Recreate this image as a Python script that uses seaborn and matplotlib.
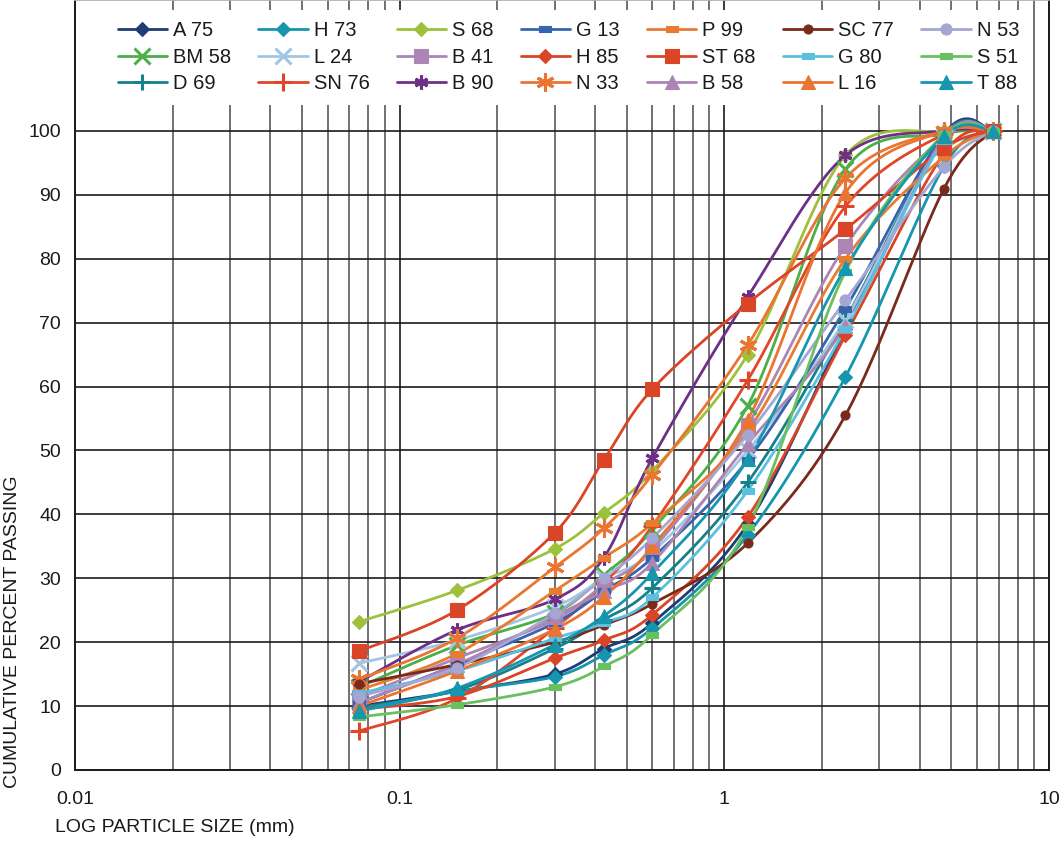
import numpy as np
import pandas as pd
import matplotlib
matplotlib.use("Agg")
import matplotlib.pyplot as plt
from matplotlib.lines import Line2D
from matplotlib.path import Path
import seaborn as sns

# Sieve sizes (mm)
sizes = [0.075, 0.15, 0.3, 0.425, 0.6, 1.18, 2.36, 4.75, 6.7]

# Cumulative percent passing for each sample
a75  = [10.0, 12.3, 15.0, 19.0, 23.0, 38.5, 69.0, 99.5, 100]
bm58 = [13.0, 19.5, 24.5, 30.5, 37.6, 57.0, 94.0, 99.5, 100]
d69  = [9.8, 12.5, 19.0, 23.5, 28.5, 45.0, 70.5, 99.0, 100]
h73  = [9.5, 12.3, 14.6, 18.0, 22.2, 36.8, 61.5, 94.5, 100]
l24  = [16.7, 20.3, 25.5, 30.0, 34.1, 50.0, 70.5, 99.0, 100]
sn76 = [6.1, 11.2, 22.2, 29.2, 38.2, 61.0, 88.2, 99.5, 100]
s68  = [23.2, 28.1, 34.6, 40.2, 46.8, 65.0, 96.2, 100, 100]
b41  = [11.5, 17.5, 23.5, 29.0, 34.5, 54.0, 82.0, 99.0, 100]
b90  = [13.8, 21.9, 26.7, 33.2, 48.8, 74.0, 96.2, 100, 100]
g13  = [10.5, 16.5, 23.0, 28.0, 33.2, 48.5, 72.2, 99.5, 100]
h85  = [9.5, 11.5, 17.5, 20.3, 24.3, 39.6, 68.0, 96.5, 100]
n33  = [14.2, 20.6, 31.7, 37.8, 46.2, 66.5, 92.6, 100, 100]
p99  = [12.5, 18.2, 28.0, 33.2, 38.6, 53.0, 80.0, 96.0, 100]
st68 = [18.6, 25.0, 37.1, 48.5, 59.6, 73.0, 84.6, 97.3, 100]
b58  = [10.5, 16.5, 24.0, 28.0, 32.4, 51.0, 69.5, 99.0, 100]
sc77 = [13.5, 16.5, 20.0, 22.7, 26.0, 35.5, 55.5, 91.0, 100]
g80  = [12.0, 15.5, 20.6, 23.0, 27.0, 43.7, 69.0, 98.5, 100]
l16  = [10.0, 15.5, 22.0, 27.1, 35.0, 54.8, 90.3, 100, 100]
n53  = [11.5, 16.0, 24.5, 30.0, 36.3, 52.5, 73.5, 94.4, 100]
s51  = [8.3, 10.2, 13.0, 16.2, 21.2, 38.0, 78.0, 99.5, 100]
t88  = [9.2, 12.8, 19.6, 24.1, 30.8, 48.6, 78.6, 99.2, 100]

names = ["A 75", "BM 58", "D 69", "H 73", "L 24", "SN 76", "S 68",
         "B 41", "B 90", "G 13", "H 85", "N 33", "P 99", "ST 68",
         "B 58", "SC 77", "G 80", "L 16", "N 53", "S 51", "T 88"]
values = [a75, bm58, d69, h73, l24, sn76, s68, b41, b90, g13, h85, n33,
          p99, st68, b58, sc77, g80, l16, n53, s51, t88]

# wide flat rectangle marker
rect = Path([(-1, -0.5), (1, -0.5), (1, 0.5), (-1, 0.5), (-1, -0.5)],
            [Path.MOVETO, Path.LINETO, Path.LINETO, Path.LINETO, Path.CLOSEPOLY])
ast = (6, 2, 0)

styles = {
    "A 75":  dict(color="#1F3C74", marker="D", ms=7.5),
    "BM 58": dict(color="#4CAF48", marker="x", ms=11, mew=2.2),
    "D 69":  dict(color="#16808B", marker="+", ms=11, mew=2.2),
    "H 73":  dict(color="#1596AE", marker="D", ms=7.5),
    "L 24":  dict(color="#A2C6E2", marker="x", ms=11, mew=2.2),
    "SN 76": dict(color="#E2452A", marker="+", ms=13, mew=2.2),
    "S 68":  dict(color="#9DC13A", marker="D", ms=7.5),
    "B 41":  dict(color="#AC85B5", marker="s", ms=10),
    "B 90":  dict(color="#6E2F87", marker=ast, ms=10, mew=2.2),
    "G 13":  dict(color="#3465AE", marker=rect, ms=9),
    "H 85":  dict(color="#D94526", marker="D", ms=7.5),
    "N 33":  dict(color="#EA7432", marker=ast, ms=13, mew=2.2),
    "P 99":  dict(color="#E87B2F", marker=rect, ms=9),
    "ST 68": dict(color="#D94526", marker="s", ms=10.5),
    "B 58":  dict(color="#AC85B5", marker="^", ms=10),
    "SC 77": dict(color="#7A2A1A", marker="o", ms=6.5),
    "G 80":  dict(color="#5BBFE0", marker=rect, ms=9),
    "L 16":  dict(color="#EA7432", marker="^", ms=10),
    "N 53":  dict(color="#A5A6D3", marker="o", ms=8),
    "S 51":  dict(color="#6ABF5E", marker=rect, ms=9),
    "T 88":  dict(color="#1796B0", marker="^", ms=10),
}


def smooth_path(xs, ys, n=30):
    """Bezier smoothing through the points in log-x space."""
    pts = np.column_stack([np.log10(xs), np.asarray(ys, float)])
    segs = []
    last = len(pts) - 2
    for i in range(len(pts) - 1):
        p0 = pts[max(i - 1, 0)]
        p1 = pts[i]
        p2 = pts[i + 1]
        p3 = pts[min(i + 2, len(pts) - 1)]
        c1 = p1 + (p2 - p0) / 6.0
        c2 = p2 - (p3 - p1) / 6.0
        t = np.linspace(0, 1, n, endpoint=(i == last))[:, None]
        segs.append((1 - t) ** 3 * p1 + 3 * (1 - t) ** 2 * t * c1
                    + 3 * (1 - t) * t ** 2 * c2 + t ** 3 * p2)
    out = np.vstack(segs)
    return 10 ** out[:, 0], out[:, 1]


sns.set_theme(style="white")
plt.rcParams["font.family"] = ["Liberation Sans", "DejaVu Sans"]
plt.rcParams["font.size"] = 13.5

fig = plt.figure(figsize=(10.6, 8.41), dpi=100)
ax = fig.add_axes([75 / 1060, 1 - 770 / 841, 974 / 1060, 770 / 841])

ax.set_xscale("log")
ax.set_xlim(0.01, 10)
ax.set_ylim(0, 120.5)
ax.set_yticks(np.arange(0, 101, 10))
ax.set_xticks([0.01, 0.1, 1, 10])
ax.set_xticklabels(["0.01", "0.1", "1", "10"])

ax.grid(which="major", axis="both", color="#1a1a1a", lw=1.2, zorder=0)
ax.grid(which="minor", axis="x", color="#4a4a4a", lw=1.1, zorder=0)
ax.set_axisbelow(True)
ax.tick_params(axis="both", which="major", length=6, width=1.2, color="#1a1a1a",
               direction="out", labelsize=14, colors="#1a1a1a")
ax.tick_params(axis="x", which="major", pad=9)
ax.tick_params(axis="x", which="minor", length=0)
ax.tick_params(axis="y", pad=4)
for side in ("left", "bottom", "right"):
    ax.spines[side].set_color("#1a1a1a")
    ax.spines[side].set_linewidth(1.4)
ax.spines["top"].set_color("#b0b0b0")

handles = []
for name, vals in zip(names, values):
    st = styles[name]
    sx, sy = smooth_path(sizes, vals)
    curve = pd.DataFrame({"size": sx, "passing": sy})
    sns.lineplot(data=curve, x="size", y="passing", sort=False, estimator=None,
                 color=st["color"], lw=2.0, ax=ax, legend=False, zorder=3)
    mk = dict(marker=st["marker"], ms=st["ms"], mew=st.get("mew", 0.8),
              mfc=st["color"], mec=st["color"], color=st["color"])
    ax.plot(sizes, vals, linestyle="none", zorder=4, **mk)
    handles.append(Line2D([], [], lw=2.0, label=name, **mk))

ax.set_xlabel("")
ax.set_ylabel("")

leg = ax.legend(handles=handles, ncol=7, loc="upper left",
                bbox_to_anchor=(0.022, 1.0), frameon=True, fancybox=False,
                framealpha=1, facecolor="white", edgecolor="none",
                fontsize=14.5, handlelength=2.45, handletextpad=0.3,
                columnspacing=1.35, labelspacing=0.38, borderpad=0.55)
leg.set_zorder(10)
for txt in leg.get_texts():
    txt.set_color("#1a1a1a")

fig.text(55 / 1060, 1 - 828 / 841, "LOG PARTICLE SIZE (mm)", fontsize=14,
         ha="left", va="center", color="#1a1a1a")
fig.text(13 / 1060, 1 - 632 / 841, "CUMULATIVE PERCENT PASSING", fontsize=14,
         rotation=90, ha="center", va="center", color="#1a1a1a")

fig.savefig("out.png", dpi=100)
